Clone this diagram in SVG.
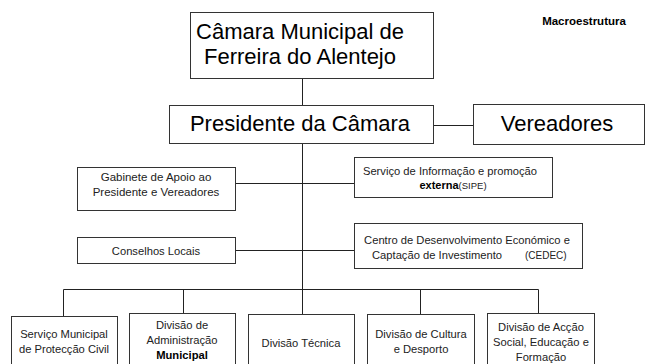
<svg xmlns="http://www.w3.org/2000/svg" width="646" height="364" viewBox="0 0 646 364">
<style>
.box{fill:#fff;stroke:#333;stroke-width:1}
.ln{fill:none;stroke:#222;stroke-width:1}
text{font-family:"Liberation Sans",Arial,sans-serif;fill:#000;text-anchor:middle}
.big{font-size:22px}
.sm{font-size:11.2px;fill:#222}
.b{font-weight:bold}
.st{text-anchor:start}
</style>
<rect width="646" height="364" fill="#fff"/>
<g id="connectors">
<path class="ln" d="M302.5 78.5V105.5"/>
<path class="ln" d="M302.5 143.5V314.5"/>
<path class="ln" d="M433.5 125.5H473.5"/>
<path class="ln" d="M235.5 183.5H354.5"/>
<path class="ln" d="M235.5 250.5H354.5"/>
<path class="ln" d="M63.5 289.5H538.5"/>
<path class="ln" d="M63.5 289.5V316.5"/>
<path class="ln" d="M183.5 289.5V313.5"/>
<path class="ln" d="M420.5 289.5V314.5"/>
<path class="ln" d="M538.5 289.5V313.5"/>
</g>
<text x="584" y="25" class="b" style="font-size:11.5px">Macroestrutura</text>
<g id="camara">
<rect class="box" x="190.5" y="12.5" width="243" height="66"/>
<text class="big" x="300" y="39">Câmara Municipal de</text>
<text class="big" x="300" y="64">Ferreira do Alentejo</text>
</g>
<g id="presidente">
<rect class="box" x="169.5" y="105.5" width="264" height="38"/>
<text class="big" x="300" y="131">Presidente da Câmara</text>
</g>
<g id="vereadores">
<rect class="box" x="473.5" y="104.5" width="171" height="40"/>
<text class="big" x="557" y="131">Vereadores</text>
</g>
<g id="gabinete">
<rect class="box" x="77.5" y="167.5" width="158" height="43"/>
<text class="sm" x="156" y="181" style="font-size:11.5px">Gabinete de Apoio ao</text>
<text class="sm" x="156" y="196" style="font-size:11.5px">Presidente e Vereadores</text>
</g>
<g id="sipe">
<rect class="box" x="354.5" y="157.5" width="198" height="40"/>
<text class="sm" x="450" y="175">Serviço de Informação e promoção</text>
<text x="453" y="189" style="font-size:11px"><tspan class="b">externa</tspan><tspan style="font-size:9.5px;fill:#222">(SIPE)</tspan></text>
</g>
<g id="conselhos">
<rect class="box" x="77.5" y="237.5" width="158" height="26"/>
<text class="sm" x="156" y="254.5">Conselhos Locais</text>
</g>
<g id="cedec">
<rect class="box" x="354.5" y="223.5" width="228" height="45"/>
<text class="sm" x="467" y="244">Centro de Desenvolvimento Económico e</text>
<text class="sm st" x="372" y="259">Captação de Investimento</text>
<text class="sm st" x="525" y="259" style="font-size:10px">(CEDEC)</text>
</g>
<g id="protecao">
<rect class="box" x="11.5" y="316.5" width="106" height="60"/>
<text class="sm" x="64" y="338">Serviço Municipal</text>
<text class="sm" x="64" y="353">de Protecção Civil</text>
</g>
<g id="administracao">
<rect class="box" x="129.5" y="313.5" width="106" height="60"/>
<text class="sm" x="182" y="329">Divisão de</text>
<text class="sm" x="182" y="344">Administração</text>
<text class="sm b" x="182" y="359" style="fill:#000">Municipal</text>
</g>
<g id="tecnica">
<rect class="box" x="248.5" y="314.5" width="106" height="60"/>
<text class="sm" x="301" y="347">Divisão Técnica</text>
</g>
<g id="cultura">
<rect class="box" x="367.5" y="314.5" width="107" height="60"/>
<text class="sm" x="421" y="338">Divisão de Cultura</text>
<text class="sm" x="421" y="353">e Desporto</text>
</g>
<g id="accao">
<rect class="box" x="487.5" y="313.5" width="107" height="60"/>
<text class="sm" x="541" y="331">Divisão de Acção</text>
<text class="sm" x="541" y="346">Social, Educação e</text>
<text class="sm" x="541" y="361">Formação</text>
</g>
</svg>
